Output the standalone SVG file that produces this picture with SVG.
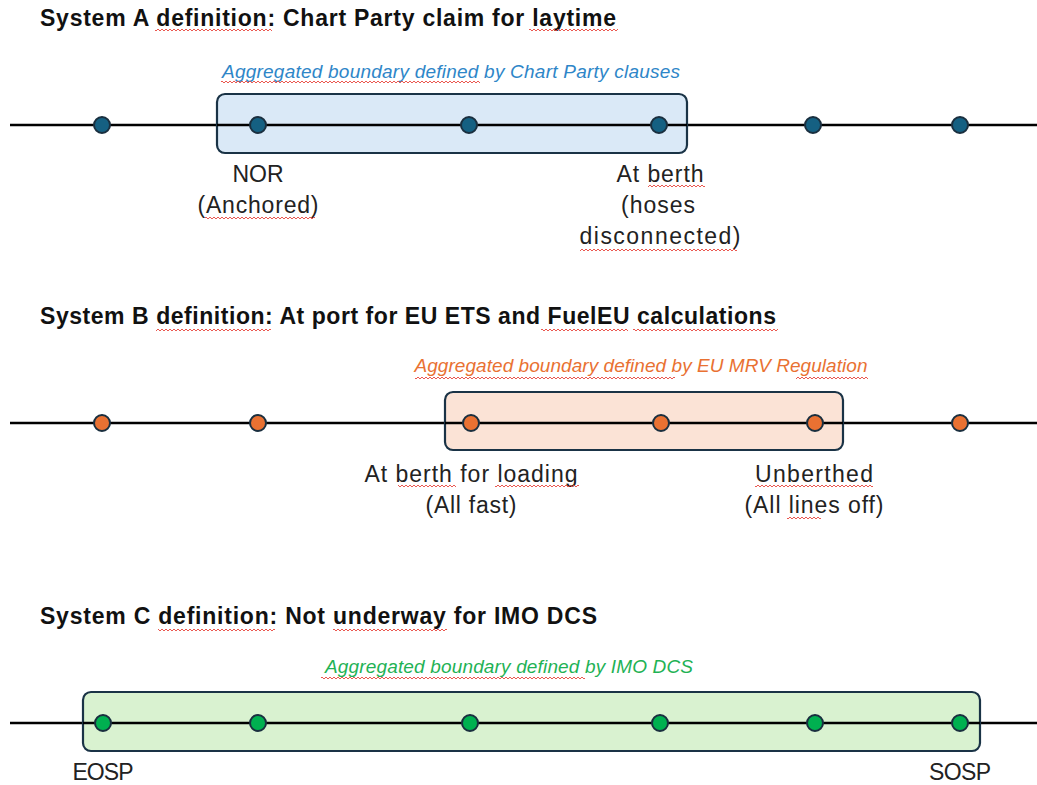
<svg xmlns="http://www.w3.org/2000/svg" width="1037" height="785" viewBox="0 0 1037 785">
  <style>
    .title { font-family: "Liberation Sans", Arial, sans-serif; font-weight: bold; font-size: 23px; fill: #111; }
    .label { font-family: "Liberation Sans", Arial, sans-serif; font-size: 23px; fill: #222; text-anchor: middle; }
    .note { font-family: "Liberation Sans", Arial, sans-serif; font-style: italic; font-size: 19px; text-anchor: middle; }
    .axis { stroke: #000; stroke-width: 2.5; }
    .box { stroke: #1a3346; stroke-width: 2.2; }
    .dot { stroke: #1a2f3f; stroke-width: 2; }
    .squig { fill: url(#squig); }
  </style>
  <defs>
    <!-- red wavy underline tile -->
    <pattern id="squig" width="4" height="4" patternUnits="userSpaceOnUse">
      <path d="M0 3 L2 1 L4 3" fill="none" stroke="#e8453c" stroke-width="0.9"/>
    </pattern>
  </defs>
  <rect width="1037" height="785" fill="#fff"/>

  <!-- ===== System A ===== -->
  <g id="systemA">
    <text class="title" x="40" y="26" textLength="576">System A definition: Chart Party claim for laytime</text>
    <rect class="squig" x="155" y="28" width="117" height="4"/>
    <rect class="squig" x="529" y="28" width="89" height="4"/>

    <text class="note" x="451" y="78" fill="#2e86c8" textLength="458">Aggregated boundary defined by Chart Party clauses</text>
    <rect class="squig" x="221" y="80" width="259" height="4"/>

    <line class="axis" x1="10" y1="125" x2="1037" y2="125"/>
    <rect id="boundaryA" class="box" x="217" y="94" width="470" height="59" rx="8" fill="#dae9f7"/>
    <line class="axis" x1="217" y1="125" x2="687" y2="125"/>

    <g fill="#156082">
      <circle class="dot" cx="102" cy="125" r="8"/>
      <circle class="dot" cx="258" cy="125" r="8"/>
      <circle class="dot" cx="469" cy="125" r="8"/>
      <circle class="dot" cx="659" cy="125" r="8"/>
      <circle class="dot" cx="813" cy="125" r="8"/>
      <circle class="dot" cx="960" cy="125" r="8"/>
    </g>

    <g id="nodeNOR">
      <text class="label" x="258" y="182">NOR</text>
      <text class="label" x="258" y="213" textLength="121">(Anchored)</text>
      <rect class="squig" x="205" y="216" width="110" height="4"/>
    </g>
    <g id="nodeAtBerthA">
      <text class="label" x="660" y="182" textLength="87">At berth</text>
      <rect class="squig" x="648" y="184" width="57" height="4"/>
      <text class="label" x="658" y="213" textLength="74">(hoses</text>
      <text class="label" x="660" y="244" textLength="161">disconnected)</text>
      <rect class="squig" x="580" y="248" width="157" height="4"/>
    </g>
  </g>

  <!-- ===== System B ===== -->
  <g id="systemB">
    <text class="title" x="40" y="324" textLength="736">System B definition: At port for EU ETS and FuelEU calculations</text>
    <rect class="squig" x="156" y="328" width="115" height="4"/>
    <rect class="squig" x="541" y="328" width="87" height="4"/>
    <rect class="squig" x="633" y="328" width="145" height="4"/>

    <text class="note" x="641" y="372" fill="#e97132" textLength="453">Aggregated boundary defined by EU MRV Regulation</text>
    <rect class="squig" x="415" y="376" width="260" height="4"/>
    <rect class="squig" x="796" y="376" width="72" height="4"/>

    <line class="axis" x1="10" y1="423" x2="1037" y2="423"/>
    <rect id="boundaryB" class="box" x="445" y="392" width="398" height="58" rx="8" fill="#fbe3d6"/>
    <line class="axis" x1="445" y1="423" x2="843" y2="423"/>

    <g fill="#e97132">
      <circle class="dot" cx="102" cy="423" r="8"/>
      <circle class="dot" cx="258" cy="423" r="8"/>
      <circle class="dot" cx="471" cy="423" r="8"/>
      <circle class="dot" cx="661" cy="423" r="8"/>
      <circle class="dot" cx="815" cy="423" r="8"/>
      <circle class="dot" cx="960" cy="423" r="8"/>
    </g>

    <g id="nodeAtBerthLoading">
      <text class="label" x="471" y="482" textLength="213">At berth for loading</text>
      <rect class="squig" x="398" y="484" width="58" height="4"/>
      <rect class="squig" x="495" y="484" width="84" height="4"/>
      <text class="label" x="471" y="513" textLength="91">(All fast)</text>
    </g>
    <g id="nodeUnberthed">
      <text class="label" x="814" y="482" textLength="118">Unberthed</text>
      <rect class="squig" x="755" y="484" width="118" height="4"/>
      <text class="label" x="814" y="513" textLength="139">(All lines off)</text>
      <rect class="squig" x="787" y="516" width="34" height="4"/>
    </g>
  </g>

  <!-- ===== System C ===== -->
  <g id="systemC">
    <text class="title" x="40" y="624" textLength="557">System C definition: Not underway for IMO DCS</text>
    <rect class="squig" x="158" y="628" width="117" height="4"/>
    <rect class="squig" x="333" y="628" width="114" height="4"/>

    <text class="note" x="509" y="673" fill="#1fb255" textLength="368">Aggregated boundary defined by IMO DCS</text>
    <rect class="squig" x="321" y="676" width="264" height="4"/>

    <line class="axis" x1="10" y1="723" x2="1037" y2="723"/>
    <rect id="boundaryC" class="box" x="83" y="692" width="897" height="59" rx="8" fill="#d9f2d0"/>
    <line class="axis" x1="83" y1="723" x2="980" y2="723"/>

    <g fill="#00b050">
      <circle class="dot" cx="103" cy="723" r="8"/>
      <circle class="dot" cx="258" cy="723" r="8"/>
      <circle class="dot" cx="470" cy="723" r="8"/>
      <circle class="dot" cx="660" cy="723" r="8"/>
      <circle class="dot" cx="815" cy="723" r="8"/>
      <circle class="dot" cx="960" cy="723" r="8"/>
    </g>

    <g id="nodeEOSP">
      <text class="label" x="103" y="780" textLength="61">EOSP</text>
    </g>
    <g id="nodeSOSP">
      <text class="label" x="960" y="780" textLength="62">SOSP</text>
    </g>
  </g>
</svg>
